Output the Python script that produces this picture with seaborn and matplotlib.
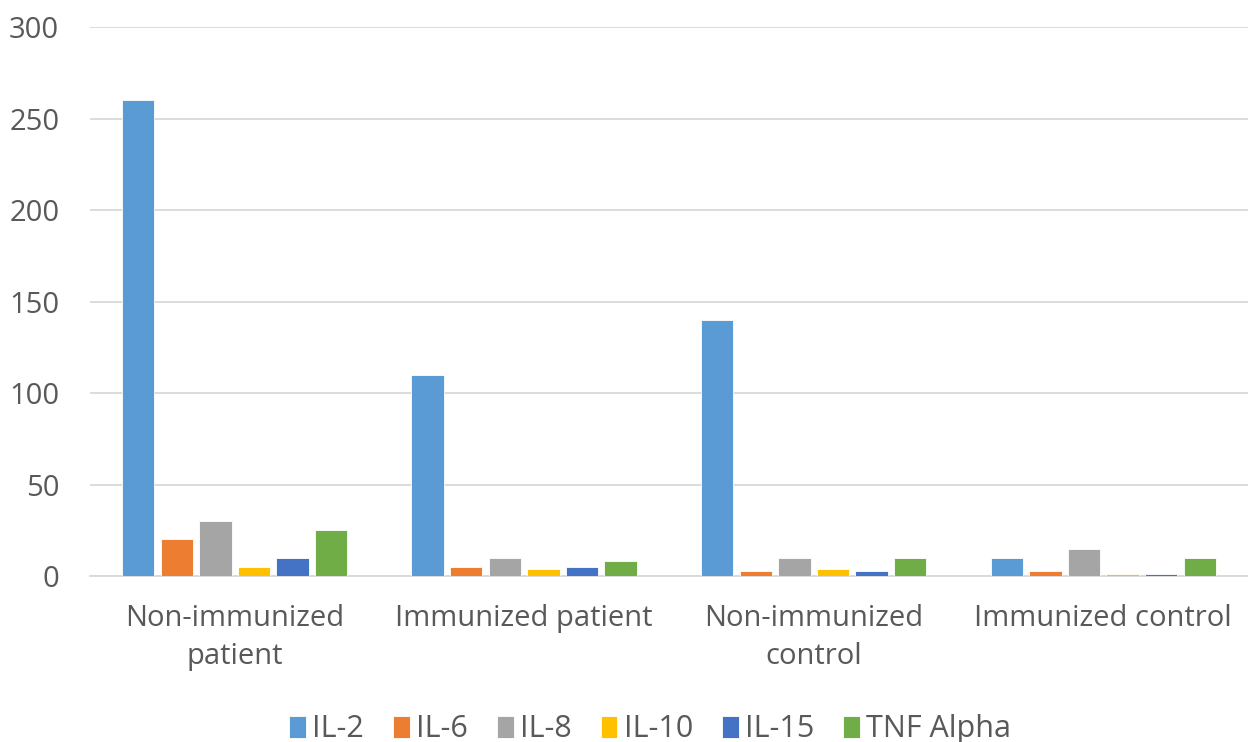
import matplotlib
matplotlib.use("Agg")
import matplotlib.pyplot as plt
import pandas as pd
import seaborn as sns

groups = ["Non-immunized\npatient", "Immunized patient", "Non-immunized\ncontrol", "Immunized control"]
markers = ["IL-2", "IL-6", "IL-8", "IL-10", "IL-15", "TNF Alpha"]
il2 = [260, 110, 140, 10]
il6 = [20, 5, 3, 3]
il8 = [30, 10, 10, 15]
il10 = [5, 4, 4, 1]
il15 = [10, 5, 3, 1]
tnf_alpha = [25, 8, 10, 10]
palette = ["#5B9BD5", "#ED7D31", "#A5A5A5", "#FFC000", "#4472C4", "#70AD47"]

series = [il2, il6, il8, il10, il15, tnf_alpha]
rows = []
for name, vals in zip(markers, series):
    for g, v in zip(groups, vals):
        rows.append({"group": g, "marker": name, "value": v})
df = pd.DataFrame(rows)

sns.set_theme(style="white")
plt.rcParams["font.family"] = ["Open Sans", "DejaVu Sans"]
text_color = "#595959"

fig = plt.figure(figsize=(12.48, 7.42), dpi=100)
ax = fig.add_axes([0.072, 0.2237, 0.928, 0.7399])

sns.barplot(data=df, x="group", y="value", hue="marker", order=groups,
            hue_order=markers, palette=palette, width=0.8, gap=0.16,
            saturation=1, edgecolor="white", linewidth=0.6,
            ax=ax, legend=True)

ax.set_ylim(0, 300)
ax.set_xlim(-0.5, 3.5)
ax.set_yticks(range(0, 301, 50))
ax.yaxis.grid(True, color="#D9D9D9", linewidth=1.3)
ax.set_axisbelow(True)
for s in ["top", "right", "left"]:
    ax.spines[s].set_visible(False)
ax.spines["bottom"].set_color("#D9D9D9")
ax.spines["bottom"].set_linewidth(1.3)
ax.spines["bottom"].set_zorder(0.6)
ax.tick_params(axis="both", length=0, labelsize=21, colors=text_color)
ax.tick_params(axis="x", pad=20)
ax.tick_params(axis="y", pad=22)
for lbl in ax.get_xticklabels():
    lbl.set_linespacing(1.4)
ax.set_xlabel("")
ax.set_ylabel("")

handles, labels = ax.get_legend_handles_labels()
ax.legend_.remove()
fig.legend(handles, labels, loc="center", bbox_to_anchor=(0.521, 0.017), ncol=6,
           frameon=False, fontsize=22, handlelength=0.55, handleheight=0.75,
           handletextpad=0.2, columnspacing=0.95, labelcolor=text_color)

fig.savefig("out.png", dpi=100)
